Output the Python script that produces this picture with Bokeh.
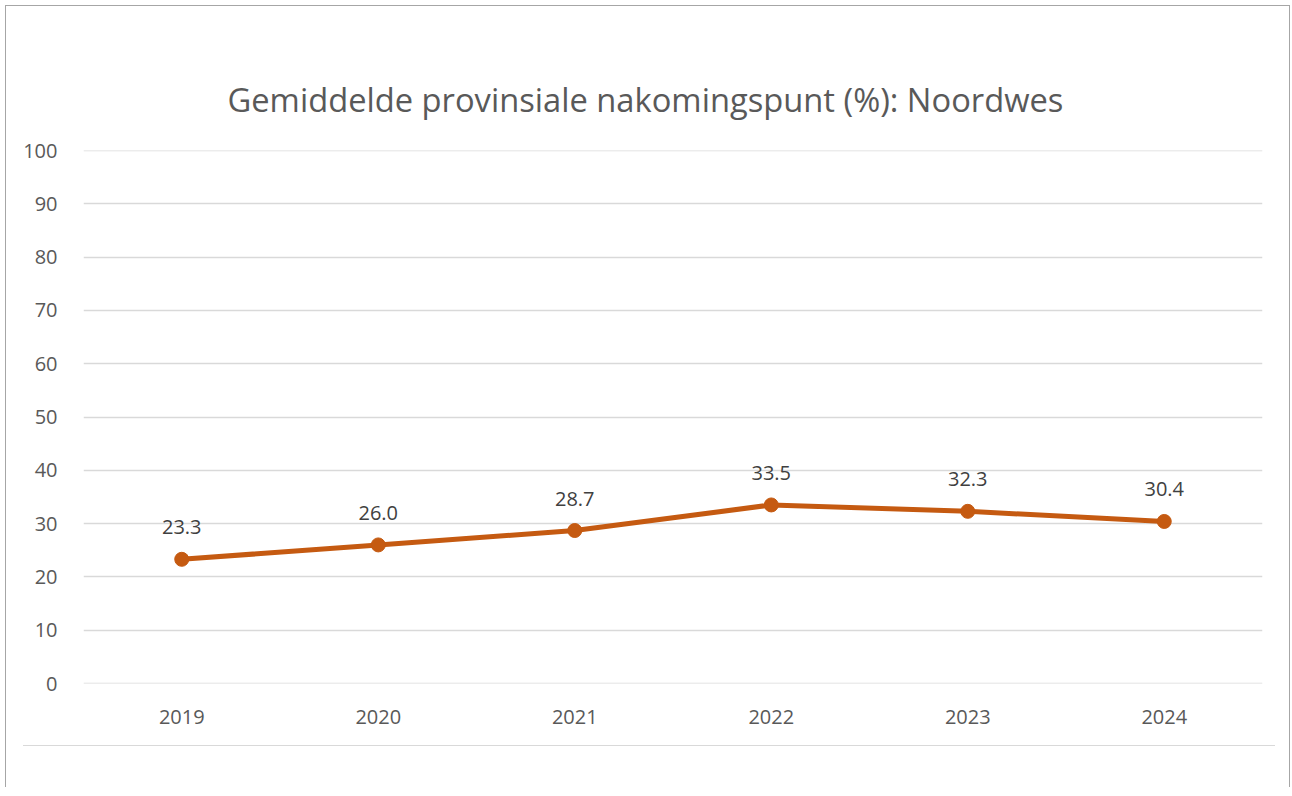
from bokeh.plotting import figure
from bokeh.models import ColumnDataSource, FixedTicker, LabelSet, Div, Span
from bokeh.layouts import column
from bokeh.core.properties import value
from bokeh.embed import file_html
from bokeh.resources import INLINE

years = ["2019", "2020", "2021", "2022", "2023", "2024"]
scores = [23.3, 26.0, 28.7, 33.5, 32.3, 30.4]
score_labels = ["23.3", "26.0", "28.7", "33.5", "32.3", "30.4"]
y_ticks = [0, 10, 20, 30, 40, 50, 60, 70, 80, 90, 100]
title_text = "Gemiddelde provinsiale nakomingspunt (%): Noordwes"

FONT = "Open Sans"
LINE_COLOR = "#C55A11"
GRID = "#d9d9d9"

src = ColumnDataSource(dict(x=years, y=scores, lab=score_labels))

p = figure(width=1283, height=739, x_range=years, y_range=(0, 100),
           output_backend="svg", toolbar_location=None,
           min_border_left=77, min_border_right=27, min_border_top=144, min_border_bottom=62)
p.outline_line_color = None
p.background_fill_color = "white"
p.border_fill_color = "white"

p.title.text = title_text
p.title.align = "left"
p.title.text_font = FONT
p.title.text_font_size = "32.7px"
p.title.text_font_style = "normal"
p.title.text_color = "#595959"
p.title.standoff = 57
p.title.offset = 144

for yv in (0, 100):
    p.add_layout(Span(location=yv, dimension="width", line_color=GRID, line_width=1.5))

p.line("x", "y", source=src, line_color=LINE_COLOR, line_width=5)
p.scatter("x", "y", source=src, size=14, fill_color=LINE_COLOR, line_color=LINE_COLOR)

labels = LabelSet(x="x", y="y", text="lab", source=src, y_offset=32,
                  text_align="center", text_baseline="middle",
                  text_font=value(FONT), text_font_size="20px", text_color="#404040")
p.add_layout(labels)

p.yaxis.ticker = FixedTicker(ticks=y_ticks)
for ax in (p.xaxis, p.yaxis):
    ax.axis_line_color = None
    ax.major_tick_line_color = None
    ax.minor_tick_line_color = None
    ax.major_label_text_font = FONT
    ax.major_label_text_font_size = "20px"
    ax.major_label_text_color = "#595959"
p.yaxis.major_label_standoff = 20
p.xaxis.major_label_standoff = 20

p.xgrid.grid_line_color = None
p.ygrid.grid_line_color = GRID
p.ygrid.grid_line_width = 1.5

sep = Div(text="", width=1252, height=2, margin=(0, 0, 0, 17),
          styles={"border-top": "1.5px solid #d9d9d9", "box-sizing": "border-box"})
pad = Div(text="", width=10, height=40, margin=(0, 0, 0, 0))

layout = column(p, sep, pad, margin=(5, 0, 0, 5),
                styles={"border-top": "1.5px solid #a6a6a6",
                        "border-left": "1.5px solid #a6a6a6",
                        "border-right": "1.5px solid #a6a6a6",
                        "background": "white"})

open("out.html", "w").write(file_html(layout, INLINE))
